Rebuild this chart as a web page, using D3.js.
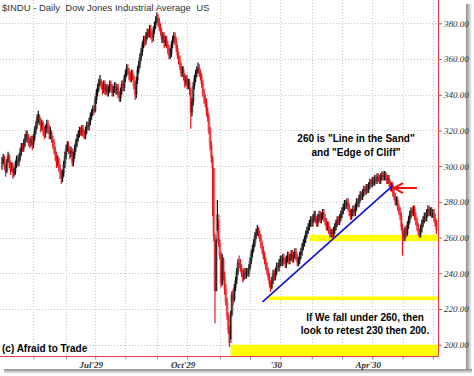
<!DOCTYPE html>
<html><head><meta charset="utf-8">
<script src="https://cdn.jsdelivr.net/npm/d3@7"></script>
<style>
html,body{margin:0;padding:0;background:#fff;}
svg{display:block;}
</style></head><body>
<svg id="chart" width="474" height="376"></svg>
<script>
// Daily $INDU, Apr 1929 - early Jun 1930
const close = [
302,305,300,297,303,306,301,298,300,296,
297,301,304,302,305,308,311,310,313,316,
318,316,314,313,315,312,316,320,323,327,
328,325,322,324,320,318,321,324,321,318,
319,315,313,309,306,302,304,299,296,293,
296,301,306,310,312,309,307,309,302,306,
310,313,316,318,320,319,321,318,317,320,
323,322,325,328,330,332,331,337,341,344,
347,348,345,343,346,342,344,341,343,346,
344,341,343,345,342,344,340,338,342,346,
344,349,352,355,353,351,349,352,350,345,
340,348,354,357,361,364,368,371,370,373,
375,374,377,373,372,376,379,381,383,381,
378,375,371,373,369,371,368,366,362,363,
368,371,373,370,366,362,360,356,352,354,
350,347,349,345,347,343,330,336,345,349,
352,354,355,352,350,346,341,338,336,331,
327,320,312,305,299,261,230,258,273,257,
250,234,248,238,231,224,216,208,201,217,
228,225,232,236,241,246,245,243,240,237,
241,239,241,240,243,247,251,254,257,261,
263,265,262,260,256,253,250,247,244,241,
238,234,232,236,240,238,241,244,243,246,
248,246,249,247,245,248,250,247,249,251,
248,250,252,249,246,247,250,252,255,257,
259,262,264,266,268,270,268,271,273,270,
268,271,273,270,272,274,271,269,266,267,
264,262,263,261,264,266,268,270,269,271,
273,275,277,279,278,280,277,274,272,274,
276,274,277,280,279,282,284,283,285,287,
286,288,287,289,291,290,292,291,293,292,
294,293,292,294,295,294,295,294,292,293,
290,288,289,285,283,280,281,277,275,272,
266,262,260,265,262,267,270,273,275,274,
276,272,269,266,263,262,265,268,270,272,
271,274,276,274,275,273,274,271,268,264];
const high = [
305,307,306,301,304,308,307,303,302,302,
299,303,306,306,307,310,313,313,315,318,
320,320,318,316,317,317,318,322,325,329,
331,329,327,326,325,322,323,326,326,323,
322,320,317,315,311,308,306,305,301,298,
298,303,308,312,314,314,311,311,310,308,
312,315,318,320,322,322,323,323,320,322,
325,325,327,330,332,334,334,339,343,346,
349,351,349,347,348,348,346,346,345,348,
348,346,345,347,347,346,346,342,344,348,
348,351,354,357,357,355,353,354,354,351,
347,350,356,359,363,366,370,373,373,375,
377,377,379,379,375,378,381,384,386,385,
383,380,377,375,375,373,373,370,368,366,
370,373,375,375,372,368,364,362,358,356,
356,352,351,351,349,349,344,338,347,351,
354,356,358,357,354,352,348,343,340,338,
333,329,322,314,306,299,262,259,281,270,
259,252,251,249,241,234,226,218,210,219,
230,231,234,238,243,248,250,248,245,242,
243,243,243,243,245,249,253,256,259,263,
265,267,266,264,262,258,255,252,249,246,
243,240,236,238,242,242,243,246,246,248,
250,250,251,251,249,250,252,252,251,253,
253,252,254,254,251,249,252,254,257,259,
261,264,266,268,270,272,272,273,275,275,
272,273,275,275,274,276,276,273,271,269,
269,266,265,265,266,268,270,272,272,273,
275,277,279,281,281,282,282,279,276,276,
278,278,279,282,282,284,286,286,287,289,
289,290,290,291,293,293,294,294,295,295,
296,296,295,296,297,297,297.3,297,296,295,
295,292,291,291,287,285,283,283,279,277,
274,268,264,266,267,269,272,275,277,277,
278,278,274,271,268,265,267,270,272,274,
274,276,278,278,277,277,276,276,273,270];
const low = [
298,301,298,294,296,302,299,295,297,293,
294,295,299,300,300,303,306,308,308,311,
314,313,311,310,311,309,310,314,318,321,
324,323,319,320,317,315,316,319,318,315,
315,313,310,307,303,299,300,297,293,290,
291,294,299,304,308,307,304,305,300,300,
304,308,311,314,316,317,317,316,315,315,
318,320,320,323,326,328,329,330,335,339,
342,345,343,340,341,340,340,339,339,341,
342,339,339,341,340,340,338,336,336,340,
342,342,347,350,351,348,347,347,348,343,
337,338,346,352,355,359,362,366,367,368,
371,372,372,371,369,370,374,377,380,378,
376,373,369,369,366,367,366,363,360,360,
361,366,369,368,364,360,357,354,350,350,
348,344,345,343,343,340,321,328,334,343,
347,350,352,350,348,344,339,335,333,328,
325,318,309,302,272,258,212,230,264,255,
248,232,233,236,228,222,214,206,198.7,203,
216,222,224,230,234,239,243,241,238,235,
236,237,237,238,238,242,245,249,252,255,
259,261,260,258,254,251,248,245,242,239,
236,232,229.5,231,234,236,236,239,241,241,
244,244,244,245,243,243,246,245,245,247,
246,246,248,247,244,244,245,248,250,253,
255,257,260,262,264,266,266,266,269,268,
266,266,269,268,268,270,269,267,264,264,
262,260,260,259.5,260,262,264,266,267,267,
269,271,273,275,276,276,275,272,270,270,
272,272,272,275,277,277,280,281,281,283,
284,284,285,285,287,288,288,289,289,290,
290,291,290,290,292,292,292,292,290,290,
288,286,286,283,281,278,278,275,273,270,
264,250,258,258,260,261,265,268,271,272,
272,270,267,264,261,260,260,263,266,268,
269,269,272,272,272,271,271,269,266,262];
// first bar of each month (May'29 ... Jun'30), as bar index
const monthStart = [26,53,77,102,128,153,180,205,230,256,281,306,331,356];
const xLabelIdx = [77,153,230,306];
const xLabels = ["Jul'29","Oct'29","'30","Apr'30"];
const yTicks = [200,220,240,260,280,300,320,340,360,380];
// yellow support bands: [low value, high value, first bar index]
const bandLow = [258,225,190];
const bandHigh = [261.5,227,200];
const bandStart = [254.5,220,189];
// blue trend line (bar index, value)
const trendIdx = [215.3,323.4];
const trendVal = [224,289.4];
// red arrow: tail -> tip
const arrowIdx = [342.9,324];
const arrowVal = [287.7,287.7];

const svg = d3.select('#chart');
const plotR = 438, plotB = 356.5;
const x = d3.scaleLinear().domain([0, close.length-1]).range([2, 436.4]);
const y = d3.scaleLinear().domain([200, 380]).range([344.7, 23.3]);

// drop shadow of the panel
const defs = svg.append('defs');
const gr = defs.append('linearGradient').attr('id','shR').attr('x1',0).attr('x2',1).attr('y1',0).attr('y2',0);
gr.append('stop').attr('offset',0).attr('stop-color','#8a8a8a');
gr.append('stop').attr('offset',1).attr('stop-color','#ffffff');
const gb = defs.append('linearGradient').attr('id','shB').attr('x1',0).attr('x2',0).attr('y1',0).attr('y2',1);
gb.append('stop').attr('offset',0).attr('stop-color','#8a8a8a');
gb.append('stop').attr('offset',1).attr('stop-color','#ffffff');
svg.append('rect').attr('x',466).attr('y',4).attr('width',6).attr('height',370).attr('fill','url(#shR)');
svg.append('rect').attr('x',4).attr('y',369).attr('width',468).attr('height',5).attr('fill','url(#shB)');
svg.append('rect').attr('x',0).attr('y',0).attr('width',466).attr('height',369).attr('fill','#fff');

defs.append('clipPath').attr('id','plot').append('rect').attr('x',0).attr('y',0).attr('width',plotR).attr('height',plotB);

// gridlines
const grid = svg.append('g').attr('stroke','#c4c4c4').attr('stroke-dasharray','1,2').attr('stroke-width',1);
grid.selectAll('line.h').data(yTicks).join('line').attr('class','h')
  .attr('x1',0).attr('x2',plotR).attr('y1',d=>Math.round(y(d))+0.5).attr('y2',d=>Math.round(y(d))+0.5);
grid.selectAll('line.v').data(monthStart).join('line').attr('class','v')
  .attr('x1',d=>Math.round(x(d))+0.5).attr('x2',d=>Math.round(x(d))+0.5).attr('y1',0).attr('y2',plotB);

const plot = svg.append('g').attr('clip-path','url(#plot)');

// yellow bands
plot.selectAll('rect.band').data(bandLow).join('rect').attr('class','band')
  .attr('x',(d,i)=>x(bandStart[i])).attr('width',(d,i)=>plotR - x(bandStart[i]))
  .attr('y',(d,i)=>y(bandHigh[i])).attr('height',(d,i)=> (i===2 ? plotB - y(bandHigh[i]) : y(d)-y(bandHigh[i])))
  .attr('fill','#ffff00');

// bars (body spans previous close -> close)
const bars = close.map((c,i)=>({i, c, o: i ? close[i-1] : c, h: high[i], l: low[i]}));
const col = d => d.c >= d.o ? '#111' : '#e8141b';
plot.append('g').selectAll('rect').data(bars).join('rect')
  .attr('x',d=>x(d.i)-1.5).attr('width',3)
  .attr('y',d=>y(Math.max(d.o,d.c))).attr('height',d=>Math.max(1, Math.abs(y(d.o)-y(d.c))))
  .attr('fill',col).attr('fill-opacity',0.4);
plot.append('g').selectAll('line').data(bars).join('line')
  .attr('x1',d=>x(d.i)).attr('x2',d=>x(d.i)).attr('y1',d=>y(d.h)).attr('y2',d=>y(d.l))
  .attr('stroke',col).attr('stroke-width',1.2);

// trend line
plot.append('line').attr('x1',x(trendIdx[0])).attr('y1',y(trendVal[0]))
  .attr('x2',x(trendIdx[1])).attr('y2',y(trendVal[1]))
  .attr('stroke','#1010c8').attr('stroke-width',1.6);

// arrow
const ax0 = x(arrowIdx[0]), ay0 = y(arrowVal[0]), ax1 = x(arrowIdx[1]), ay1 = y(arrowVal[1]);
plot.append('line').attr('x1',ax0).attr('y1',ay0).attr('x2',ax1+1).attr('y2',ay1)
  .attr('stroke','#ee1111').attr('stroke-width',2);
plot.append('path').attr('d',`M${ax1+9},${ay1-5} L${ax1},${ay1} L${ax1+9},${ay1+5}`)
  .attr('fill','none').attr('stroke','#ee1111').attr('stroke-width',2);

// axis lines
svg.append('line').attr('x1',plotR+0.5).attr('x2',plotR+0.5).attr('y1',0).attr('y2',plotB).attr('stroke','#e0393e').attr('stroke-width',1);
svg.append('line').attr('x1',0).attr('x2',plotR+0.5).attr('y1',plotB).attr('y2',plotB).attr('stroke','#e0393e').attr('stroke-width',1);

// y axis
const yAxis = svg.append('g').attr('transform',`translate(${plotR+1},0)`)
  .call(d3.axisRight(y).tickValues(yTicks).tickFormat(d3.format('.2f')).tickSize(3).tickPadding(2));
yAxis.select('.domain').remove();
yAxis.selectAll('line').attr('stroke','#777');
yAxis.selectAll('text').attr('font-family','Liberation Serif, serif').attr('font-style','italic')
  .attr('font-size',9).attr('fill','#333');

// x axis
const xAxis = svg.append('g').attr('transform',`translate(0,${plotB})`)
  .call(d3.axisBottom(x).tickValues(monthStart).tickFormat('').tickSize(3));
xAxis.select('.domain').remove();
xAxis.selectAll('line').attr('stroke','#888');
svg.append('g').selectAll('text').data(xLabelIdx).join('text')
  .attr('x',d=>x(d)-4).attr('y',368).attr('text-anchor','middle')
  .attr('font-family','Liberation Serif, serif').attr('font-style','italic').attr('font-weight','bold')
  .attr('font-size',9).attr('fill','#333').text((d,i)=>xLabels[i]);

// texts
svg.append('text').attr('x',2).attr('y',11).attr('font-family','Liberation Sans, Arial, sans-serif')
  .attr('font-size',9.5).attr('fill','#333').style('white-space','pre')
  .text('$INDU - Daily  Dow Jones Industrial Average  US');
const bold = (t,xx,yy,anchor) => svg.append('text').attr('x',xx).attr('y',yy).attr('text-anchor',anchor||'middle')
  .attr('font-family','Liberation Sans, Arial, sans-serif').attr('font-weight','bold').attr('font-size',10)
  .attr('fill','#000').text(t);
bold('260 is "Line in the Sand"',356,141.5);
bold('and "Edge of Cliff"',356,155.5);
bold('If We fall under 260, then',365,320.5);
bold('look to retest 230 then 200.',365,334);
bold('(c) Afraid to Trade',2,351.5,'start');
</script></body></html>
